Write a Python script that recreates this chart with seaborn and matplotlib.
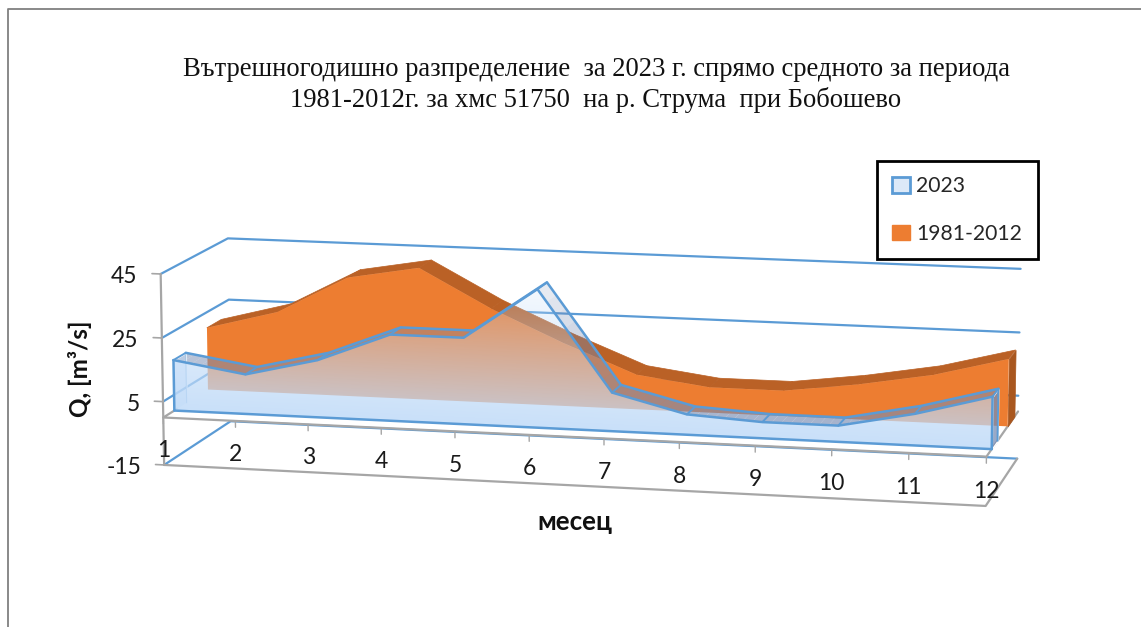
import numpy as np
import seaborn as sns
import matplotlib.pyplot as plt
from matplotlib.image import AxesImage
from matplotlib.patches import Patch
from matplotlib.path import Path
from matplotlib.lines import Line2D
from mpl_toolkits.mplot3d import proj3d
from mpl_toolkits.mplot3d.art3d import Poly3DCollection

months = [1, 2, 3, 4, 5, 6, 7, 8, 9, 10, 11, 12]
q_2023 = [16, 12.5, 18, 27, 27, 43, 12, 6.3, 5, 5, 9.7, 16]
q_norm = [20, 26, 38, 42, 30, 20, 11, 8, 8, 11, 15, 21]
q_ticks = [45, 25, 5, -15]
labels = ["2023", "1981-2012"]

title = ("Вътрешногодишно разпределение  за 2023 г. спрямо средното за периода\n"
         "1981-2012г. за хмс 51750  на р. Струма  при Бобошево")

BLUE = "#5B9BD5"
ORANGE = "#ED7D31"
GREY = "#A6A6A6"

sns.set_theme(style="white")
plt.rcParams["font.family"] = ["Lato", "Open Sans", "DejaVu Sans"]

fig = plt.figure(figsize=(11.41, 6.27), dpi=100, facecolor="white")
side = 853
ax = fig.add_axes([154 / 1141, -178 / 627, side / 1141, side / 627],
                  projection="3d", computed_zorder=False)
ax.set_proj_type("persp", focal_length=1)
ax.view_init(elev=11, azim=-77)
ax.set_box_aspect((828, 222, 194))
ax.set_axis_off()


def blue_alpha(level):
    return np.clip(0.85 - 0.0155 * level, 0.08, 0.85)


# walls: gridlines run along the left and the back side
for level in q_ticks:
    sns.lineplot(x=[1, 1, 12], y=[level, level, level], ax=ax, color=BLUE, lw=1.6,
                 sort=False, errorbar=None, estimator=None, legend=False, zorder=1,
                 zs=[0, 1, 1], zdir="y")

# grey frame of the floor and the axis plate
ax.plot([1, 12, 12], [0, 0, 1], [-15, -15, -15], color=GREY, lw=1.6, zorder=1)
ax.plot([1, 1, 12, 12], [0.2, 0, 0, 1], [0, 0, 0, 0], color=GREY, lw=1.6, zorder=2)
ax.plot([1, 1], [0, 0], [-15, 45], color=GREY, lw=1.6, zorder=2)

# 1981-2012
y_o0, y_o1 = 0.66, 0.88
quads = [[(months[i], y_o0, q_norm[i]), (months[i + 1], y_o0, q_norm[i + 1]),
          (months[i + 1], y_o1, q_norm[i + 1]), (months[i], y_o1, q_norm[i])]
         for i in range(11)]
ax.add_collection3d(Poly3DCollection(quads, facecolors="#BA6126", edgecolors="#BA6126",
                                     linewidths=0.5, zorder=3))
ax.add_collection3d(Poly3DCollection(
    [[(12, y_o0, 0), (12, y_o1, 0), (12, y_o1, q_norm[-1]), (12, y_o0, q_norm[-1])]],
    facecolors="#A9571F", edgecolors="#A9571F", linewidths=0.5, zorder=3))
front = [(months[0], y_o0, 0)] + [(m, y_o0, v) for m, v in zip(months, q_norm)] + [(months[-1], y_o0, 0)]
ax.add_collection3d(Poly3DCollection([front], facecolors=ORANGE, edgecolors="none", zorder=4))

# 2023: prism with a transparent gradient
y_b0, y_b1 = 0.16, 0.34
xr = np.linspace(1, 12, 89)
tr = np.interp(xr, months, q_2023)
rib, rib_cols = [], []
for a, b, t0, t1 in zip(xr[:-1], xr[1:], tr[:-1], tr[1:]):
    rib.append([(a, y_b0, t0), (b, y_b0, t1), (b, y_b1, t1), (a, y_b1, t0)])
    rib_cols.append((0.47, 0.55, 0.70, 0.85 * blue_alpha((t0 + t1) / 2)))
ax.add_collection3d(Poly3DCollection(rib, facecolors=rib_cols, edgecolors="none",
                                     linewidths=0, zorder=5))
ax.add_collection3d(Poly3DCollection(
    [[(12, y_b0, 0), (12, y_b1, 0), (12, y_b1, q_2023[-1]), (12, y_b0, q_2023[-1])]],
    facecolors=(0.47, 0.55, 0.70, 0.75), zorder=5))
ax.add_collection3d(Poly3DCollection(
    [[(1, y_b0, 0), (1, y_b1, 0), (1, y_b1, q_2023[0]), (1, y_b0, q_2023[0])]],
    facecolors=(0.75, 0.85, 0.97, 0.35), zorder=5))

# blue outlines
for depth in (y_b1, y_b0):
    sns.lineplot(x=months, y=q_2023, ax=ax, color=BLUE, lw=1.8, sort=False, errorbar=None,
                 estimator=None, legend=False, zorder=7, zs=depth, zdir="y")
ax.plot([1, 12], [y_b0, y_b0], [0, 0], color=BLUE, lw=1.8, zorder=7)
ax.plot([1, 1], [y_b0, y_b0], [0, q_2023[0]], color=BLUE, lw=1.8, zorder=7)
ax.plot([12, 12], [y_b0, y_b0], [0, q_2023[-1]], color=BLUE, lw=1.8, zorder=7)
ax.plot([12, 12], [y_b1, y_b1], [0, q_2023[-1]], color=BLUE, lw=1.4, zorder=7)
ax.plot([1, 1], [y_b1, y_b1], [0, q_2023[0]], color=BLUE, lw=0.8, alpha=0.5, zorder=5)
for m, v in zip(months, q_2023):
    ax.plot([m, m], [y_b0, y_b1], [v, v], color=BLUE, lw=1.4, zorder=7)

ax.set_xlim(1, 12, view_margin=0)
ax.set_ylim(0, 1, view_margin=0)
ax.set_zlim(-15, 45, view_margin=0)
ax.set_xlabel("")
ax.set_ylabel("")
ax.set_xticks([])
ax.set_yticks([])
ax.set_zticks([])

M = ax.get_proj()


def project(x, y, z):
    px, py, _ = proj3d.proj_transform(x, y, z, M)
    return np.array([px, py])


def tick_label(x, y, z, s, dx, dy, ha):
    ax.annotate(s, xy=project(x, y, z), xycoords="data", xytext=(dx * 0.72, dy * 0.72),
                textcoords="offset points", ha=ha, va="center", fontsize=16.5,
                color="#1a1a1a", zorder=10, annotation_clip=False)


for m in months:
    ax.plot([m, m], [0, 0], [0, -2], color=GREY, lw=1, zorder=2)
    tick_label(m, 0, -10.5, str(m), 0, 0, "center")
for level in q_ticks:
    ax.plot([0.88, 1], [0, 0], [level, level], color=GREY, lw=1.2, zorder=2)
    tick_label(1, 0, level, str(level), -23, -3, "right")

for art in ax.get_children():
    art.set_clip_on(False)

# front face of 2023: gradient image clipped to the projected outline of the area
outline = np.array([project(1, y_b0, 0)] + [project(m, y_b0, v) for m, v in zip(months, q_2023)]
                   + [project(12, y_b0, 0), project(1, y_b0, 0)])
x0, y0 = outline.min(axis=0)
x1, y1 = outline.max(axis=0)
gx, gy = np.meshgrid(np.linspace(x0, x1, 900), np.linspace(y0, y1, 400))
origin = project(1, y_b0, 0)
ex = project(12, y_b0, 0) - origin
ez = project(1, y_b0, 45) - origin
grid_v = (ex[0] * (gy - origin[1]) - ex[1] * (gx - origin[0])) / (ex[0] * ez[1] - ex[1] * ez[0])
rgba = np.ones(gx.shape + (4,))
rgba[..., :3] = (0.75, 0.855, 0.975)
rgba[..., 3] = blue_alpha(45 * grid_v)
im = AxesImage(ax, extent=(x0, x1, y0, y1), origin="lower", interpolation="bilinear", zorder=6)
im.set_data(rgba)
im.set_transform(ax.transData)
ax.add_artist(im)
im.set_clip_on(True)
im.set_clip_box(None)
im.set_clip_path(Path(outline), ax.transData)

fig.text(0.5224, 0.864, title, ha="center", va="center", family="Liberation Serif",
         fontsize=19.2, color="#111111", linespacing=1.25)
fig.text(80 / 1141, 1 - 369 / 627, "Q, [m³/s]", rotation=90, ha="center", va="center",
         fontsize=17.5, fontweight="bold", color="#111111")
fig.text(575 / 1141, 1 - 522 / 627, "месец", ha="center", va="center",
         fontsize=18.7, fontweight="bold", color="#111111")

handles = [Patch(facecolor="#DCE9F8", edgecolor=BLUE, lw=2), Patch(facecolor=ORANGE, edgecolor=ORANGE)]
leg = fig.legend(handles, labels, loc="upper left", bbox_to_anchor=(877 / 1141, 1 - 161 / 627),
                 fontsize=15.2, frameon=True, fancybox=False, edgecolor="black", framealpha=1,
                 labelspacing=1.3, handlelength=0.85, handleheight=0.75, handletextpad=0.3,
                 borderpad=0.72, borderaxespad=0)
leg.get_frame().set_linewidth(2)

# chart border
fig.add_artist(Line2D([8 / 1141, 8 / 1141, 1141 / 1141],
                      [0, 1 - 9 / 627, 1 - 9 / 627], color="#808080", lw=1.3))

fig.savefig("out.png", dpi=100)
